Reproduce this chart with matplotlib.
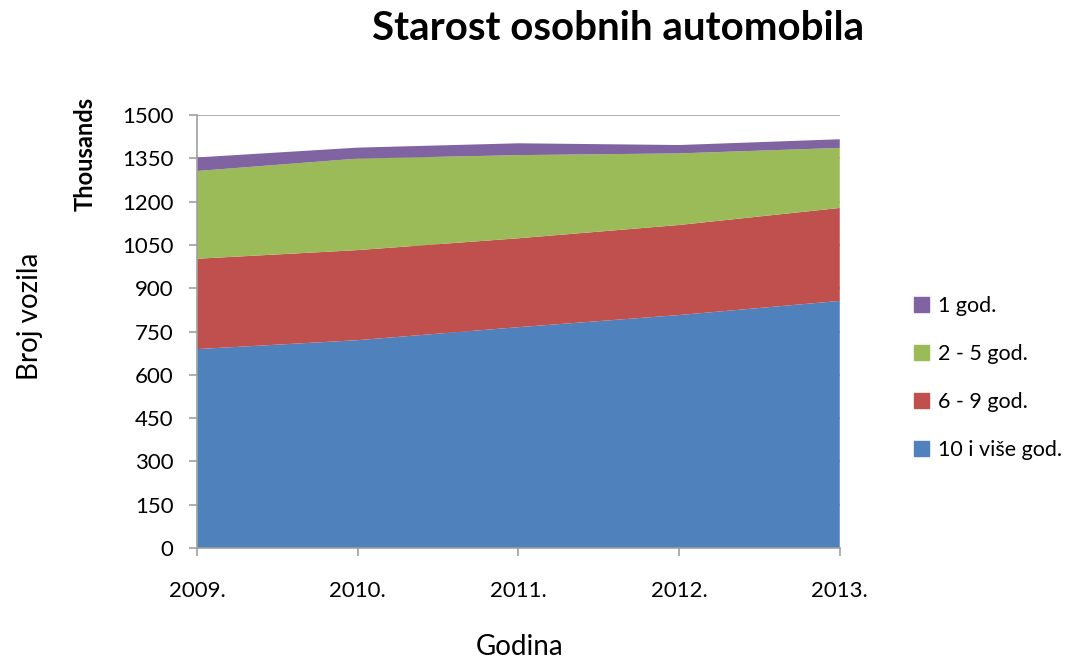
import matplotlib
matplotlib.use("Agg")
from matplotlib import pyplot as plt
from matplotlib.patches import Patch

# values in thousands
years = ["2009.", "2010.", "2011.", "2012.", "2013."]
deset_plus = [689, 720, 765, 807, 856]
sest_devet = [313, 312, 308, 312, 322]
dva_pet = [304, 317, 288, 248, 208]
jedna = [47, 38, 41, 29, 30]

labels = ["10 i više god.", "6 - 9 god.", "2 - 5 god.", "1 god."]
colors = ["#4F81BD", "#C0504D", "#9BBB59", "#8064A2"]

plt.rcParams["font.family"] = ["Lato", "DejaVu Sans"]

fig = plt.figure(figsize=(10.78, 6.59), dpi=100)
ax = fig.add_axes([0.1827, 0.1684, 0.779 - 0.1827, 0.8255 - 0.1684])

x = list(range(len(years)))
ax.stackplot(x, deset_plus, sest_devet, dva_pet, jedna, colors=colors,
             linewidth=0, zorder=2)

ax.set_xlim(0, len(years) - 1)
ax.set_ylim(0, 1500)
ax.set_yticks(range(0, 1501, 150))
ax.set_xticks(x)
ax.set_xticklabels(years)

ax.yaxis.grid(True, color="#A0A0A0", linewidth=1.2, zorder=0)
ax.set_axisbelow(True)
for s in ["top", "right"]:
    ax.spines[s].set_visible(False)
for s in ["left", "bottom"]:
    ax.spines[s].set_color("#A0A0A0")
    ax.spines[s].set_linewidth(1.2)
ax.tick_params(axis="both", colors="#A0A0A0", length=6, width=1.2,
               labelcolor="black", labelsize=16)
ax.tick_params(axis="x", pad=18)
ax.tick_params(axis="y", pad=11)

fig.text(0.573, 0.957, "Starost osobnih automobila", ha="center", va="center",
         fontsize=29, fontweight="bold")
fig.text(0.028, 0.52, "Broj vozila", rotation=90, ha="center", va="center",
         fontsize=20)
fig.text(0.079, 0.766, "Thousands", rotation=90, ha="center", va="center",
         fontsize=17, fontweight="bold")
fig.text(0.482, 0.018, "Godina", ha="center", va="center", fontsize=20)

handles = [Patch(color=c, label=l) for c, l in zip(colors, labels)][::-1]
fig.legend(handles=handles, loc="center left", bbox_to_anchor=(0.83, 0.426),
           frameon=False, fontsize=15.5, handlelength=0.7, handleheight=0.7,
           handletextpad=0.4, labelspacing=1.3)

fig.savefig("out.png", dpi=100)
